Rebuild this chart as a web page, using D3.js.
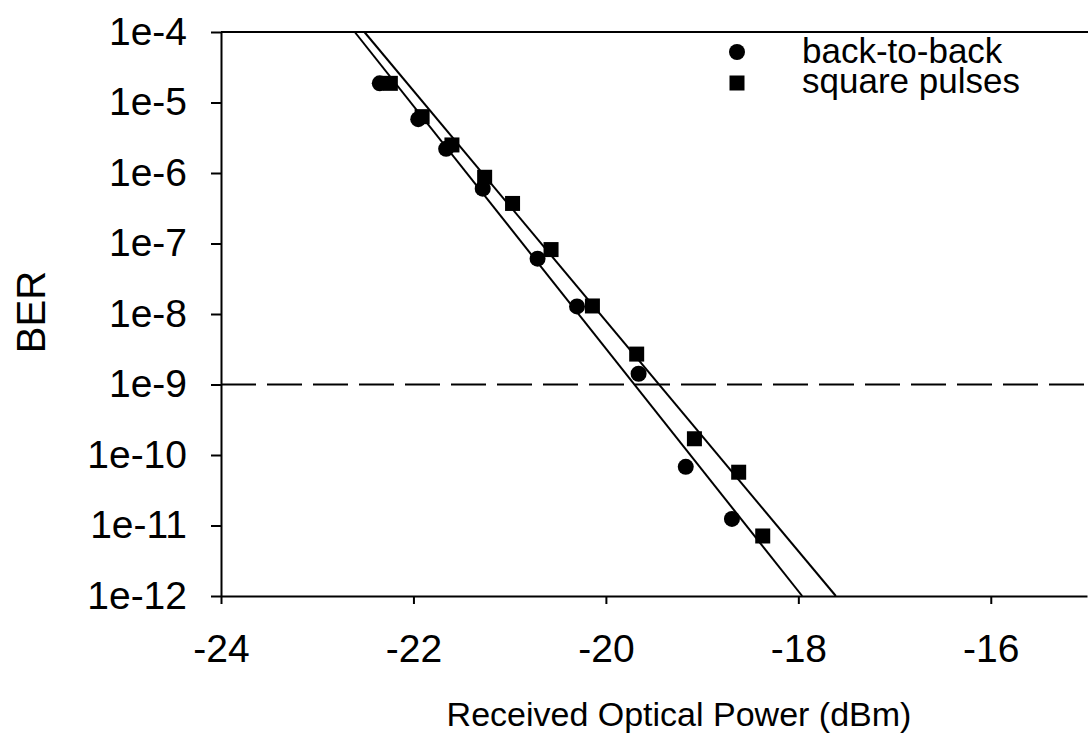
<!DOCTYPE html>
<html>
<head>
<meta charset="utf-8">
<script src="https://cdn.jsdelivr.net/npm/d3@7"></script>
<style>
  html, body { margin: 0; padding: 0; background: #fff; }
  svg { display: block; font-family: Arial, "Liberation Sans", sans-serif; }
  .axis path, .axis line { stroke: #000; stroke-width: 2px; }
  .axis text { fill: #000; font-size: 39px; }
</style>
</head>
<body>
<svg id="chart" width="1088" height="748"></svg>
<script>
// received optical power (dBm) and BER
const b2bPower = [-22.35, -21.95, -21.66, -21.28, -20.71, -20.30, -19.66, -19.17, -18.69];
const b2bBer = [1.87e-5, 5.8e-6, 2.2e-6, 6.0e-7, 6.1e-8, 1.28e-8, 1.42e-9, 6.8e-11, 1.24e-11];

const sqPower = [-22.24, -21.91, -21.60, -21.26, -20.97, -20.57, -20.14, -19.68, -19.08, -18.62, -18.37];
const sqBer = [1.87e-5, 6.3e-6, 2.5e-6, 8.7e-7, 3.7e-7, 8.2e-8, 1.3e-8, 2.7e-9, 1.7e-10, 5.7e-11, 7.1e-12];

// fitted lines, end points at the top and bottom of the plot
const b2bFitPower = [-22.61, -17.96];
const sqFitPower = [-22.51, -17.61];
const fitBer = [1e-4, 1e-12];

const berLimit = 1e-9;

const xTicks = [-24, -22, -20, -18, -16];
const xTickLabels = ["-24", "-22", "-20", "-18", "-16"];
const yTicks = [1e-4, 1e-5, 1e-6, 1e-7, 1e-8, 1e-9, 1e-10, 1e-11, 1e-12];
const yTickLabels = ["1e-4", "1e-5", "1e-6", "1e-7", "1e-8", "1e-9", "1e-10", "1e-11", "1e-12"];

const legendLabels = ["back-to-back", "square pulses"];

const svg = d3.select("#chart");
const plotLeft = 221, plotRight = 1087, plotTop = 32, plotBottom = 596;

const x = d3.scaleLinear().domain([-24, -15]).range([plotLeft, plotRight]);
const y = d3.scaleLog().domain([1e-12, 1e-4]).range([plotBottom, plotTop]);

// top frame line
svg.append("line")
  .attr("x1", plotLeft).attr("x2", 1088)
  .attr("y1", plotTop).attr("y2", plotTop)
  .attr("stroke", "#000").attr("stroke-width", 2);

svg.append("g")
  .attr("class", "axis")
  .attr("transform", `translate(0,${plotBottom})`)
  .call(d3.axisBottom(x).tickValues(xTicks).tickSize(8).tickSizeOuter(0).tickPadding(30)
    .tickFormat((d, i) => xTickLabels[i]));

svg.append("g")
  .attr("class", "axis")
  .attr("transform", `translate(${plotLeft},0)`)
  .call(d3.axisLeft(y).tickValues(yTicks).tickSize(10).tickSizeOuter(0).tickPadding(24)
    .tickFormat((d, i) => yTickLabels[i]));

// 1e-9 reference line
svg.append("line")
  .attr("x1", plotLeft).attr("x2", 1088)
  .attr("y1", y(berLimit)).attr("y2", y(berLimit))
  .attr("stroke", "#000").attr("stroke-width", 2)
  .attr("stroke-dasharray", "35,11");

const line = d3.line().x((d) => x(d[0])).y((d) => y(d[1]));

[b2bFitPower, sqFitPower].forEach((p) => {
  svg.append("path")
    .datum(p.map((v, i) => [v, fitBer[i]]))
    .attr("d", line)
    .attr("fill", "none")
    .attr("stroke", "#000")
    .attr("stroke-width", 2);
});

svg.append("g").selectAll("circle")
  .data(b2bPower.map((p, i) => [p, b2bBer[i]]))
  .join("circle")
  .attr("cx", (d) => x(d[0]))
  .attr("cy", (d) => y(d[1]))
  .attr("r", 8)
  .attr("fill", "#000");

const sq = 15;
svg.append("g").selectAll("rect")
  .data(sqPower.map((p, i) => [p, sqBer[i]]))
  .join("rect")
  .attr("x", (d) => x(d[0]) - sq / 2)
  .attr("y", (d) => y(d[1]) - sq / 2)
  .attr("width", sq)
  .attr("height", sq)
  .attr("fill", "#000");

// legend
const legend = svg.append("g");
legend.append("circle").attr("cx", 737).attr("cy", 52).attr("r", 8).attr("fill", "#000");
legend.append("rect").attr("x", 737 - sq / 2).attr("y", 83 - sq / 2)
  .attr("width", sq).attr("height", sq).attr("fill", "#000");
legend.selectAll("text")
  .data(legendLabels)
  .join("text")
  .attr("x", 802)
  .attr("y", (d, i) => 63 + i * 30)
  .attr("font-size", 35)
  .text((d) => d);

// axis titles
svg.append("text")
  .attr("x", 679).attr("y", 726)
  .attr("text-anchor", "middle")
  .attr("font-size", 34)
  .text("Received Optical Power (dBm)");

svg.append("text")
  .attr("transform", "translate(45,312) rotate(-90)")
  .attr("text-anchor", "middle")
  .attr("font-size", 40)
  .text("BER");
</script>
</body>
</html>
